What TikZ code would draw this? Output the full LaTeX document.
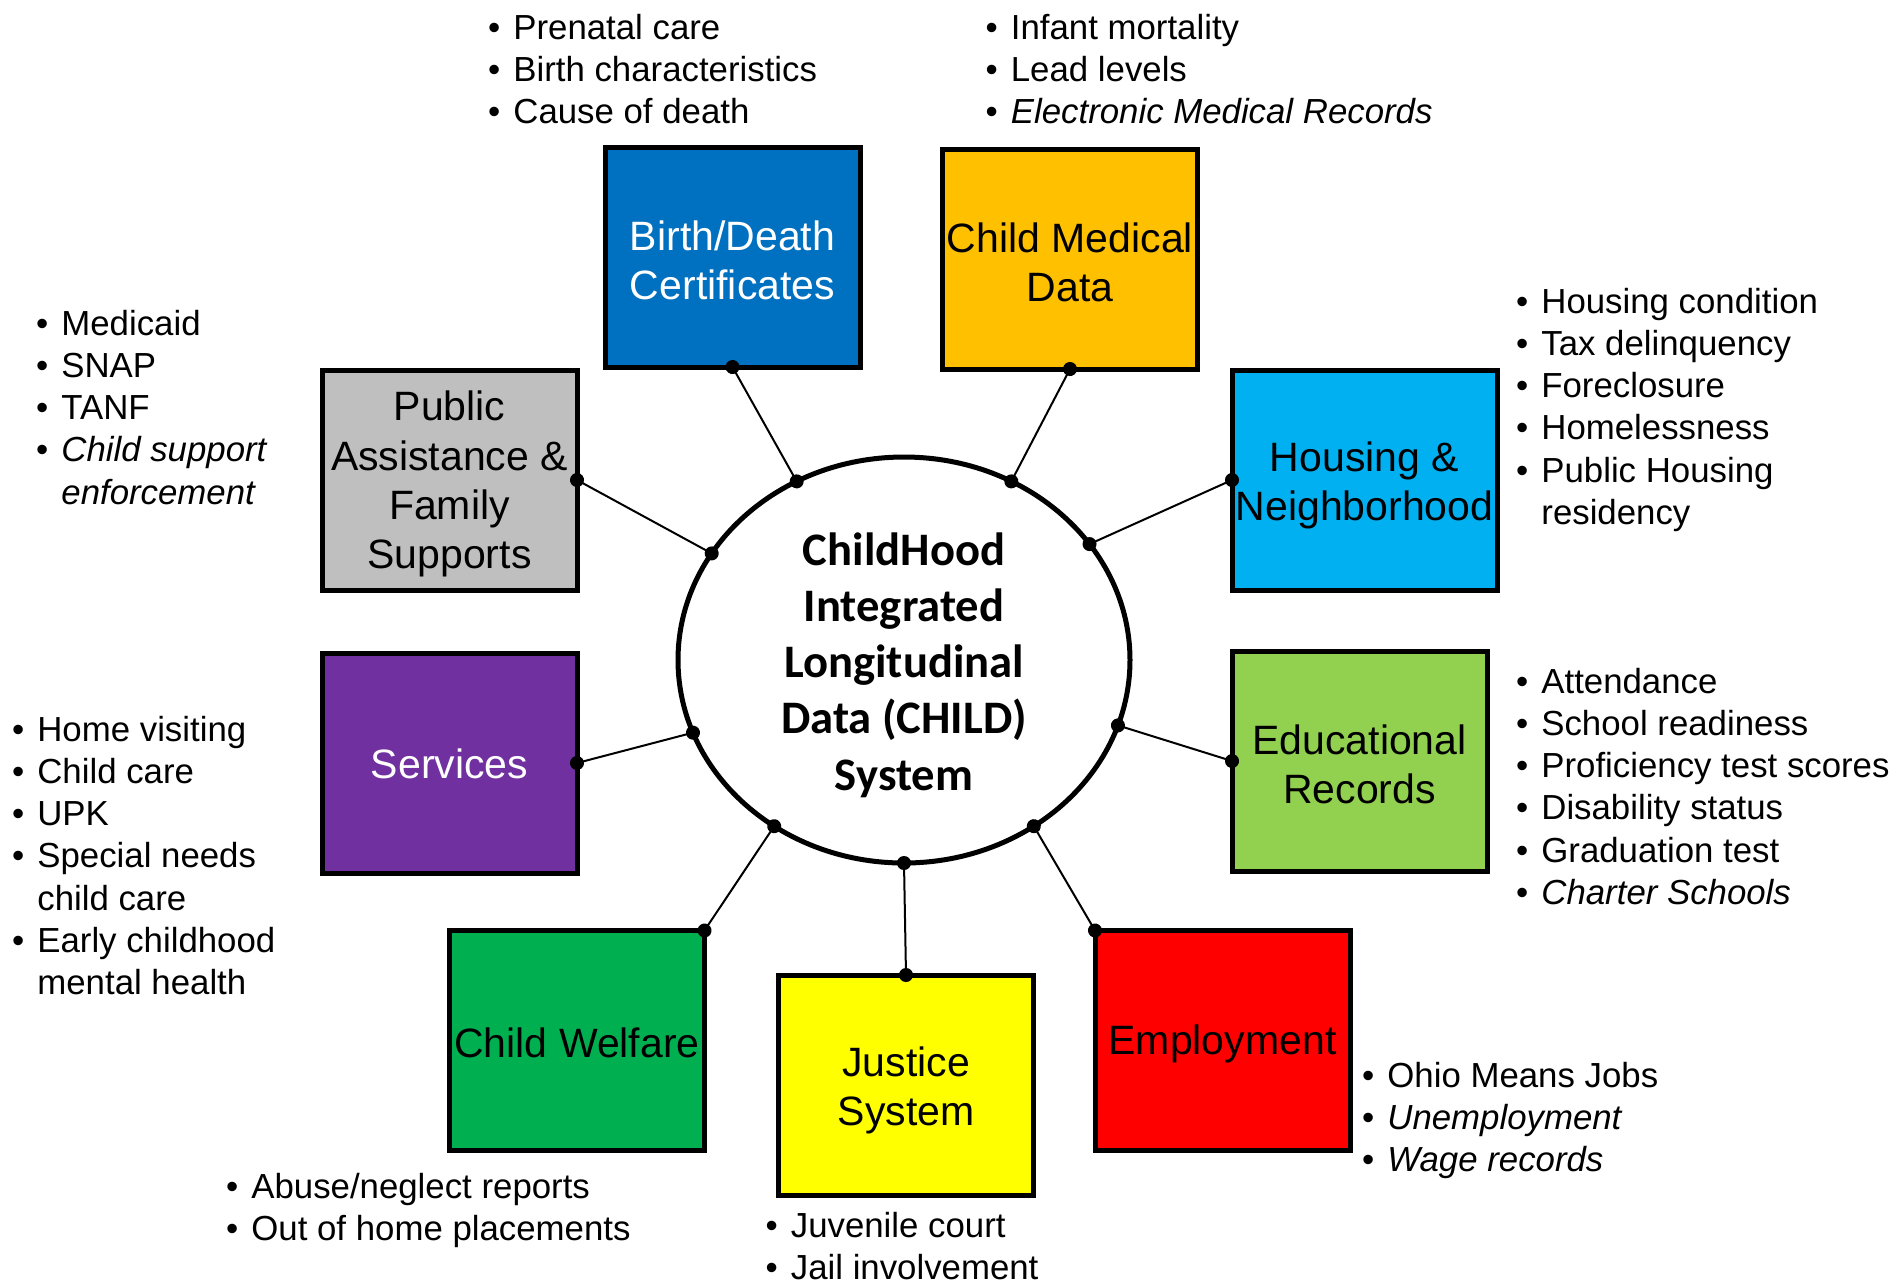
\documentclass[tikz,border=0pt]{standalone}
\usepackage{fontspec}
\setmainfont{Liberation Sans}
\newfontfamily\calibfont{Carlito}
\usetikzlibrary{shapes.geometric,arrows.meta}
\definecolor{cBirth}{HTML}{0070C0}
\definecolor{cMed}{HTML}{FFC000}
\definecolor{cHouse}{HTML}{00B0F0}
\definecolor{cEdu}{HTML}{92D050}
\definecolor{cEmp}{HTML}{FF0000}
\definecolor{cJus}{HTML}{FFFF00}
\definecolor{cWel}{HTML}{00B050}
\definecolor{cServ}{HTML}{7030A0}
\definecolor{cPub}{HTML}{BFBFBF}
\newcommand\blist[1]{\begin{tabular}[t]{@{}p{12.7pt}@{}l@{}}#1\end{tabular}}
\begin{document}
\begin{tikzpicture}[x=0.5pt,y=-0.5pt,
  box/.style={draw=black, line width=2.5pt, minimum width=127.5pt, minimum height=110pt,
    inner sep=0pt, outer sep=0pt},
  boxtext/.style={align=center, inner sep=0pt, font=\fontsize{20.5}{24.6}\selectfont},
  lst/.style={anchor=base west, inner sep=0pt, outer sep=0pt, font=\fontsize{17.4}{21.15}\selectfont},
  conn/.style={line width=1pt, {Circle[length=7pt]}-{Circle[length=7pt]}, shorten <=-3.5pt, shorten >=-3.5pt}]
\useasboundingbox[fill=white] (0,0) rectangle (1896,1282);
% core
\node (core) [ellipse, draw, line width=2.5pt, minimum width=226pt, minimum height=203pt,
  inner sep=0pt, outer sep=0pt] at (904,660) {};
\node (coretext) [align=center, inner sep=0pt, font=\calibfont\bfseries\fontsize{23.3}{28.1}\selectfont]
  at (904,665) {ChildHood\\Integrated\\Longitudinal\\Data (CHILD)\\System};
% boxes
\node (b1) [box, fill=cBirth] at (732.5,257) {};
\node (b2) [box, fill=cMed] at (1070,259) {};
\node (b3) [box, fill=cHouse, minimum width=132.5pt] at (1364.5,480) {};
\node (b4) [box, fill=cEdu] at (1359.5,761) {};
\node (b5) [box, fill=cEmp] at (1222.5,1040.5) {};
\node (b6) [box, fill=cJus] at (906,1085) {};
\node (b7) [box, fill=cWel] at (577,1040.5) {};
\node (b8) [box, fill=cServ] at (449.5,763) {};
\node (b9) [box, fill=cPub] at (449.5,480) {};
\node (t1) [boxtext, text=white] at ([yshift=-1.5pt]b1.center) {Birth/Death\\Certificates};
\node (t2) [boxtext] at ([yshift=-1.5pt]b2.center) {Child Medical\\Data};
\node (t3) [boxtext] at ([yshift=-2.5pt]b3.center) {Housing \&\\Neighborhood};
\node (t4) [boxtext] at ([yshift=-1.5pt]b4.center) {Educational\\Records};
\node (t5) [boxtext] at ([yshift=-1.5pt]b5.center) {Employment};
\node (t6) [boxtext] at ([yshift=-2.5pt]b6.center) {Justice\\System};
\node (t7) [boxtext] at ([yshift=-1pt]b7.center) {Child Welfare};
\node (t8) [boxtext, text=white] at ([yshift=-0.5pt]b8.center) {Services};
\node (t9) [boxtext] at ([yshift=-2pt]b9.center) {Public\\Assistance \&\\Family\\Supports};
% connectors
\draw[conn] (b1.south) -- (core.121.5);
\draw[conn] (b2.south) -- (core.59.5);
\draw[conn] (b3.west) -- (core.32);
\draw[conn] (b4.west) -- (core.-17.4);
\draw[conn] (b5.north west) -- (core.-52.7);
\draw[conn] (b6.north) -- (core.-90);
\draw[conn] (b7.north east) -- (core.-128.6);
\draw[conn] (b8.east) -- (core.-161.1);
\draw[conn] (b9.east) -- (core.151.5);
% lists
\node (l1) [lst] at (488,39) {\blist{•&Prenatal care\\•&Birth characteristics\\•&Cause of death\\}};
\node (l2) [lst] at (985.5,39) {\blist{•&Infant mortality\\•&Lead levels\\•&\textit{Electronic Medical Records}\\}};
\node (l9) [lst] at (36,335) {\blist{•&Medicaid\\•&SNAP\\•&TANF\\•&\textit{Child support}\\&\textit{enforcement}\\}};
\node (l3) [lst] at (1516,313) {\blist{•&Housing condition\\•&Tax delinquency\\•&Foreclosure\\•&Homelessness\\•&Public Housing\\&residency\\}};
\node (l8) [lst] at (12,741) {\blist{•&Home visiting\\•&Child care\\•&UPK\\•&Special needs\\&child care\\•&Early childhood\\&mental health\\}};
\node (l4) [lst] at (1516,693) {\blist{•&Attendance\\•&School readiness\\•&Proficiency test scores\\•&Disability status\\•&Graduation test\\•&\textit{Charter Schools}\\}};
\node (l5) [lst] at (1362,1087) {\blist{•&Ohio Means Jobs\\•&\textit{Unemployment}\\•&\textit{Wage records}\\}};
\node (l7) [lst] at (226,1198) {\blist{•&Abuse/neglect reports\\•&Out of home placements\\}};
\node (l6) [lst] at (765.5,1237) {\blist{•&Juvenile court\\•&Jail involvement\\}};
\end{tikzpicture}
\end{document}
